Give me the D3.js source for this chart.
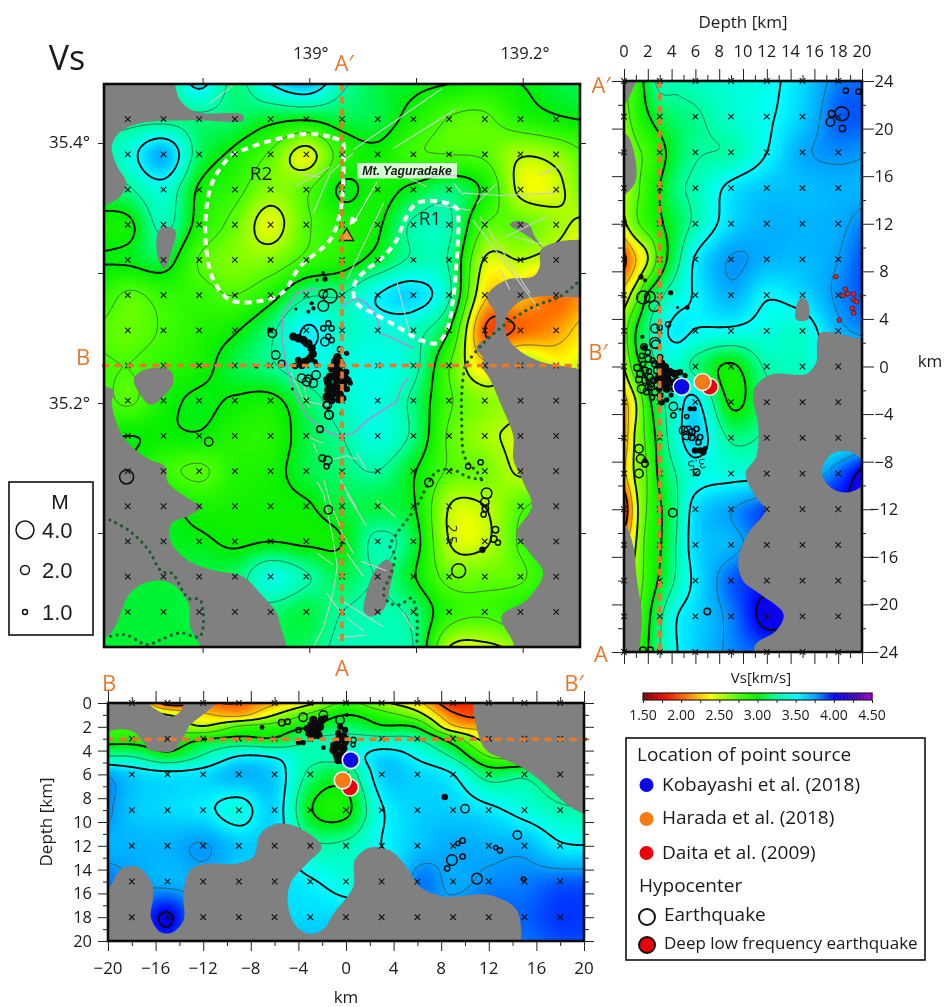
<!DOCTYPE html>
<html>
<head>
<meta charset="utf-8">
<script src="https://cdn.jsdelivr.net/npm/d3@7"></script>
<style>
  html, body { margin: 0; padding: 0; background: #fff; }
  svg { filter: blur(0.35px); }
  text { font-family: "Open Sans", sans-serif; fill: #1a1a1a; }
</style>
</head>
<body>
<div id="chart"></div>
<script>
// Vs tomography around Mt. Yaguradake: map view plus the two depth sections.

// node positions of the velocity model
const mapXs = [-21, -18, -15, -12, -9, -6, -3, 0, 3, 6, 9, 12, 15, 18, 21];
const mapYs = [24, 21, 18, 15, 12, 9, 6, 3, 0, -3, -6, -9, -12, -15, -18, -21, -24];
const sideDepths = [0, 1, 2, 3, 4.5, 6, 9, 12, 15, 18, 21];
const lowDepths = [0, 1, 2, 3, 4.5, 6, 9, 12, 15, 18, 21];

// Vs at the nodes, km/s, one row per mapYs entry
const mapVs = [
  [3.2, 3.2, 3.2, 3.55, 3.2, 3.5, 3.7, 3.3, 3.1, 3.05, 3.0, 2.93, 3.0, 3.1, 3.15],
  [3.2, 3.2, 3.2, 3.2, 3.15, 3.06, 3.02, 3.1, 3.1, 2.92, 2.74, 2.72, 2.88, 2.97, 3.02],
  [3.2, 3.4, 3.7, 3.15, 2.95, 2.72, 2.42, 2.85, 2.95, 2.78, 2.75, 2.72, 2.52, 2.58, 2.8],
  [3.1, 3.22, 3.4, 2.97, 2.82, 2.6, 2.72, 3.03, 2.93, 3.05, 3.17, 2.95, 2.45, 2.45, 2.75],
  [2.95, 2.95, 3.3, 2.92, 2.68, 2.42, 2.72, 2.88, 2.97, 3.28, 3.28, 2.75, 2.7, 2.55, 2.42],
  [3.0, 3.03, 3.1, 2.74, 2.62, 2.62, 2.8, 2.9, 3.08, 3.28, 3.23, 2.48, 2.5, 2.4, 2.3],
  [2.95, 2.72, 2.82, 2.82, 2.75, 2.92, 3.22, 3.25, 3.5, 3.6, 3.28, 2.3, 2.25, 2.05, 2.2],
  [2.75, 2.68, 2.77, 2.88, 2.98, 3.2, 3.52, 3.35, 3.4, 3.33, 3.0, 2.0, 2.03, 2.15, 2.4],
  [2.8, 2.75, 2.85, 2.93, 3.1, 3.22, 3.4, 3.4, 3.45, 3.32, 2.76, 2.3, 2.6, 2.4, 2.5],
  [2.9, 2.72, 2.93, 3.03, 2.98, 2.95, 3.15, 3.35, 3.42, 3.2, 2.78, 2.6, 2.55, 2.5, 2.5],
  [2.95, 3.0, 2.97, 2.98, 2.88, 2.88, 3.1, 3.25, 3.42, 3.2, 2.72, 2.55, 2.45, 2.4, 2.4],
  [3.0, 3.0, 2.82, 2.72, 2.88, 2.93, 3.1, 3.18, 3.25, 3.02, 2.72, 2.65, 2.47, 2.5, 2.5],
  [3.0, 3.1, 3.05, 2.92, 2.93, 2.95, 2.98, 3.1, 3.1, 3.02, 2.5, 2.5, 2.72, 2.85, 2.9],
  [3.0, 3.1, 3.05, 3.03, 2.97, 3.0, 2.97, 3.0, 3.3, 3.1, 2.5, 2.47, 2.78, 2.95, 3.0],
  [3.1, 3.08, 3.08, 3.1, 3.15, 3.42, 3.27, 3.12, 3.25, 3.02, 2.68, 2.68, 2.72, 2.95, 3.0],
  [3.08, 3.08, 3.08, 3.1, 3.15, 3.18, 3.1, 3.25, 3.3, 3.2, 2.85, 2.78, 2.9, 3.0, 3.0],
  [3.08, 3.08, 3.08, 3.08, 3.05, 3.1, 3.15, 3.3, 3.3, 3.25, 2.5, 2.45, 2.6, 2.9, 3.0]
];

// A-A' section, one row per mapYs entry, one column per sideDepths entry
const sideVs = [
  [2.75, 2.85, 3.1, 3.32, 3.3, 3.35, 3.4, 3.45, 3.6, 3.8, 3.85],
  [2.65, 2.85, 2.98, 3.1, 3.18, 3.22, 3.37, 3.47, 3.63, 3.85, 3.85],
  [2.5, 2.7, 2.8, 2.93, 3.12, 3.23, 3.28, 3.5, 3.72, 3.78, 3.75],
  [2.5, 2.7, 2.85, 3.0, 3.2, 3.3, 3.55, 3.65, 3.67, 3.7, 3.7],
  [2.45, 2.7, 2.85, 2.97, 3.12, 3.3, 3.6, 3.7, 3.7, 3.72, 3.85],
  [1.95, 2.25, 2.5, 2.85, 3.2, 3.52, 3.76, 3.7, 3.68, 3.75, 3.95],
  [2.35, 2.65, 3.02, 3.2, 3.4, 3.52, 3.7, 3.52, 3.6, 3.78, 3.9],
  [2.65, 3.0, 3.22, 3.42, 3.55, 3.49, 3.46, 3.42, 3.38, 3.7, 3.8],
  [2.5, 2.9, 3.1, 3.3, 3.35, 3.2, 2.97, 3.28, 3.35, 3.5, 3.6],
  [2.15, 2.5, 2.92, 3.17, 3.42, 3.55, 2.97, 3.2, 3.3, 3.5, 3.6],
  [2.1, 2.55, 2.82, 3.1, 3.42, 3.62, 3.22, 3.28, 3.35, 3.5, 3.6],
  [2.2, 2.55, 2.77, 3.05, 3.27, 3.42, 3.42, 3.45, 3.6, 3.85, 4.15],
  [1.8, 2.42, 2.78, 2.97, 3.25, 3.58, 3.74, 3.9, 4.0, 4.0, 4.0],
  [2.2, 2.5, 2.85, 2.98, 3.28, 3.6, 3.7, 3.85, 3.9, 3.9, 3.9],
  [2.4, 2.6, 2.85, 3.03, 3.3, 3.55, 3.85, 3.95, 4.0, 4.0, 4.0],
  [2.5, 2.7, 2.95, 3.2, 3.5, 3.6, 3.8, 4.05, 4.0, 4.0, 4.0],
  [2.6, 2.85, 3.0, 3.25, 3.5, 3.62, 3.78, 3.85, 3.8, 3.9, 3.9]
];

// B-B' section, one row per lowDepths entry, one column per mapXs entry
const lowVs = [
  [2.6, 2.6, 1.9, 2.0, 2.0, 2.2, 2.45, 2.8, 2.55, 2.3, 1.85, 2.0, 2.3, 2.3, 2.3],
  [2.7, 2.7, 2.5, 2.3, 2.2, 2.5, 2.8, 3.0, 2.85, 2.6, 2.05, 2.0, 2.4, 2.4, 2.4],
  [2.8, 2.78, 2.7, 2.52, 2.78, 2.85, 3.0, 3.15, 3.03, 2.97, 2.3, 2.2, 2.5, 2.5, 2.5],
  [2.9, 2.9, 2.85, 2.98, 3.05, 3.02, 3.25, 3.3, 3.3, 3.25, 2.85, 2.4, 2.6, 2.6, 2.6],
  [3.25, 3.25, 3.08, 3.28, 3.51, 3.48, 3.3, 3.35, 3.6, 3.47, 3.22, 2.75, 2.7, 2.7, 2.7],
  [3.8, 3.62, 3.55, 3.58, 3.7, 3.62, 3.2, 3.12, 3.62, 3.6, 3.5, 3.15, 3.2, 3.0, 2.9],
  [3.85, 3.65, 3.6, 3.55, 3.42, 3.6, 3.02, 2.95, 3.48, 3.62, 3.62, 3.55, 3.42, 3.3, 3.25],
  [3.7, 3.7, 3.7, 3.76, 3.65, 3.6, 3.3, 3.3, 3.5, 3.65, 3.72, 3.7, 3.7, 3.53, 3.5],
  [3.85, 3.75, 3.7, 3.7, 3.6, 3.6, 3.52, 3.42, 3.4, 3.8, 3.72, 3.78, 3.8, 3.85, 3.85],
  [3.8, 3.8, 4.02, 3.7, 3.7, 3.6, 3.6, 3.6, 3.6, 3.7, 3.8, 3.85, 3.85, 3.92, 3.9],
  [3.8, 3.8, 3.8, 3.7, 3.7, 3.7, 3.7, 3.7, 3.7, 3.7, 3.75, 3.8, 3.8, 3.85, 3.85]
];

// colour table of the Vs bar
const vsStops = [1.5, 1.75, 2.0, 2.25, 2.38, 2.5, 2.75, 3.0, 3.25, 3.5, 3.75, 4.0, 4.25, 4.5];
const vsColors = ['#7a0000', '#e60000', '#ff5a00', '#ffc800', '#ffff00', '#b4ff00', '#46ff00', '#00ee00', '#00ffa0', '#00ffff', '#00a0ff', '#0000ff', '#3a00b8', '#a000d0'];
const thickLevels = [2, 2.5, 3, 3.5, 4];
const thinLevels = [2.25, 2.75, 3.25, 3.75];

// unresolved areas (grey), km. Second ring of a list is a hole.
const mapGrey = [
  [[-21, 25], [-14.6, 25], [-13.6, 22.6], [-12.2, 21.6], [-8.4, 21.4], [-8.3, 20.9], [-12.5, 20.9], [-17, 20.65], [-18.65, 19.9], [-19.35, 18.65], [-18.9, 17], [-18.1, 15.5], [-18.65, 14.4], [-19.6, 13.8], [-21, 13.5]],
  [[-15.4, 11.5], [-14.9, 11.85], [-14, 11.5], [-14.3, 9.85], [-14.9, 8.3], [-15.4, 9], [-15.6, 10.4]],
  [[14.1, 12], [14.5, 12.3], [15.65, 12.1], [16.2, 11], [16.9, 10], [16.2, 10.6], [15, 11.4]],
  [[-17.5, -1.2], [-16.7, -0.4], [-14.45, -0.4], [-14.2, -1.5], [-15, -2.65], [-16.1, -3.35], [-17, -2.4]],
  [[1.8, -20.5], [2.65, -17.7], [3.75, -16.55], [4.3, -17.1], [4.05, -18.85], [3.5, -20.8], [2.35, -21.4], [1.8, -20.9]]
];
const mapGreyEast = [
  [[22, 10], [16.8, 10], [16.6, 8.4], [16.1, 7.6], [13.8, 7.3], [12.15, 5.9], [12.85, 4.45], [12.7, 2.75], [11.3, 1.6], [11.9, 0.5], [11.75, 0], [12.45, -1.2], [13.3, -3.2], [14.4, -6.05], [14.4, -8], [15.25, -10], [15.95, -12], [14.7, -14.3], [15.8, -16], [16.9, -17.7], [15.5, -20], [13.4, -21.4], [14.4, -23.7], [14.4, -25], [22, -25]],
  [[13.7, 3.9], [14.95, 5.45], [16.9, 5.9], [19.85, 5.8], [22, 5.9], [22, -0.2], [18.9, -0.1], [16.1, 0.55], [14, 2.2]]
];
const mapGreyWest = [
  [[-22, -2.1], [-19.2, -2.1], [-19.35, -3.2], [-18.95, -4.9], [-18.2, -6.35], [-16.4, -7.9], [-14.9, -8.6], [-14.6, -10], [-11.95, -11.9], [-11.65, -12], [-13.05, -12.9], [-14.3, -13.45], [-14.45, -14.85], [-13.05, -16.55], [-11.1, -17.4], [-8.3, -18], [-6.9, -19.4], [-5.5, -21.1], [-5.1, -22.5], [-4.65, -24], [-4.6, -25], [-22, -25]],
  [[-20.2, -23.4], [-19.2, -22.5], [-17.8, -19.4], [-16.1, -18.4], [-14.3, -18.6], [-12.9, -20.3], [-12.75, -22.3], [-11.9, -24], [-11.9, -25], [-21, -25], [-21, -23.4]]
];
// [depth, y]
const sideGrey = [
  [[-1, 25], [1, 25], [1, 24], [0.6, 23], [0, 22], [-1, 21.5]],
  [[-1, 19.7], [0, 19.6], [0.4, 19.3], [1.05, 16.8], [0.9, 15.4], [0, 14.4], [-1, 14.2]],
  [[14.4, 4.7], [14.8, 5.7], [15.35, 5.6], [15.5, 4], [14.5, 3.9]],
  [[-1, -13], [0, -13.2], [0.8, -15.15], [1.06, -17.7], [1.5, -21], [1.3, -24], [1.3, -25], [-1, -25]]
];
const sideGreyEast = [
  [[22, 2.2], [20, 2.3], [16.5, 2.8], [16.2, 1.1], [16.2, 0.5], [15.35, -0.6], [12.3, -0.7], [10.9, -2], [11.3, -5.1], [11.1, -7.6], [10.2, -9], [11.1, -11], [11.85, -12.1], [10.45, -14], [9.6, -16.3], [10, -18], [11.4, -19.1], [13.4, -20.8], [12.8, -22.2], [11.1, -23.3], [10.9, -24], [10.9, -25], [22, -25]],
  [[16.6, -8.9], [17.4, -7.4], [18.6, -7.1], [19.8, -7.6], [20.5, -8.9], [19.8, -10.2], [18.6, -10.6], [17.4, -10.2]]
];
// [x, depth]
const lowGreyWest = [
  [[-21, -1], [-11, -1], [-11, 0], [-13.1, 1.88], [-13.5, 2.58], [-14.5, 4], [-15.5, 4.1], [-16.6, 3.9], [-17, 3.3], [-17.9, 2.4], [-19, 2.2], [-21, 2.35]],
  [[-16.6, -1], [-16.5, 0.1], [-15.6, 0.75], [-14.8, 1.18], [-13.95, 0.75], [-13.65, 0.1], [-13.6, -1]]
];
const lowGrey = [
  [[11.1, -1], [11.1, 2.58], [11.8, 4], [13.2, 4.7], [14.75, 5.4], [16.3, 6.5], [18.55, 8.5], [20, 9.3], [22, 9.5], [22, -1]],
  [[-21, 16], [-20, 15.6], [-18.85, 13.9], [-17.45, 13.8], [-16.3, 15.2], [-16.2, 16.3], [-16.4, 18], [-15.6, 19.25], [-14.65, 19.3], [-13.65, 18.25], [-13.65, 16], [-13.1, 14.05], [-12, 13.55], [-9.2, 13.5], [-7.8, 12.95], [-7.2, 11], [-5.8, 10.15], [-4.15, 10.4], [-2.05, 12.1], [-3.3, 13.5], [-4.7, 15.2], [-4.85, 17.15], [-4.15, 18.8], [-3, 19.4], [-1.9, 19], [-1.05, 17.7], [0.6, 15.45], [0.75, 13.2], [2, 12.15], [3.7, 12.4], [5.1, 13.8], [6.2, 15.45], [8.2, 16.25], [12.1, 16.15], [14.35, 17.4], [14.75, 19.95], [14.8, 21], [-21, 21]]
];

// active faults on the map
const faults = [
  [[-11.1, 22.35], [-9.15, 23.9]], [[4.3, 18.5], [9.5, 21.8]], [[0.95, 18.4], [8.4, 23.6]],
  [[-3.95, 15.25], [-1, 16.95]], [[-2.4, 13], [-1, 16.4], [0.95, 18.1]], [[-3.4, 16.25], [-1.85, 16.1]],
  [[0.4, 7.3], [3.5, 13.85]], [[5.4, 16.1], [7.1, 15.25]], [[10.2, 14.7], [13.3, 14.5], [18, 14.7]],
  [[16.6, 16.25], [18.6, 17.1]], [[13, 15.5], [11.3, 13.8]], [[9.35, 15.55], [10.2, 14.55]],
  [[7.7, 13.7], [10.75, 13.25]], [[11, 12.4], [13.3, 9.3], [16.6, 4.75]], [[11.6, 12.7], [14.7, 7.85], [15.8, 6.15]],
  [[13.3, 8.15], [14.1, 6.45]], [[14.4, 11], [16.9, 10.3]], [[13.8, 11], [17.2, 12.7]], [[4.6, 7.15], [5.7, 2.75]],
  [[-2.95, -6.05], [-1.55, -6.65]], [[-2.4, -6.6], [-2.1, -7.45]],
  [[-2.1, -9.9], [-1.55, -10.9], [-0.75, -14.8], [-0.4, -17.15], [-0.75, -19.4], [-1.55, -22.3], [-2.4, -24]],
  [[-1.55, -9.7], [-1, -11.7], [-0.15, -13.7]], [[-0.75, -8], [0.4, -7.7], [1.25, -8]], [[-0.15, -9.75], [1.25, -12.2]],
  [[0.4, -10.9], [2.05, -13.7]], [[1.25, -7.45], [2, -8.9]], [[-0.15, -14], [0.95, -16]], [[0.4, -16], [1.8, -18]],
  [[-2.1, -16], [-0.75, -17]], [[-1.3, -19.4], [-0.15, -21]], [[-0.15, -20], [3.5, -22.3]], [[0.4, -21.5], [1.8, -22.6]],
  [[-0.4, -23.2], [2.05, -23]], [[5.1, -21], [6, -22.6]], [[1.6, -16.7], [3.75, -17.5]], [[2.9, -11.5], [4.5, -12.9]],
  [[-4.3, -0.6], [-3.2, -3], [-1.5, -3.4], [0.4, -2.6]], [[-3.4, -0.8], [-2.8, -3.6]]
];
const purpleLines = [
  [[-0.17, 5.02], [1.23, 5.73], [2.07, 5.3], [2.91, 4.17], [3.19, 2.75], [4.31, 2.32], [6, 1.47]],
  [[-2.13, 6.58], [-3.81, 6.16], [-4.93, 4.45], [-5.07, 2.47], [-4.65, -0.09], [-4.09, -2.08], [-2.97, -4.35], [-1.29, -5.63], [-0.17, -6.05], [0.95, -5.77], [2.35, -4.49], [4.59, -3.07], [5, -1.8], [5.57, -1.09]]
];
const dottedLines = [
  [[19.72, 7.01], [18.32, 5.87], [16.08, 5.02], [13.84, 3.6], [11.88, 1.9], [10.48, 0.19], [10.33, -0.09], [10.06, -2.36], [10.06, -4.64], [10.2, -7.48], [10.62, -8.33], [11.32, -9.05], [11.74, -9.75]],
  [[11.74, -9.75], [10.48, -9.47], [9.36, -8.9], [7.96, -9.05], [7.26, -10.03], [6.27, -12.02], [4.73, -14.15], [4.03, -15.43], [4.45, -16.14], [4.03, -18], [3.47, -19.41], [4.03, -20.26], [4.87, -20.4], [5.85, -19.84], [6.27, -21.11], [6.27, -23.95]],
  [[-19.5, -13.16], [-17.8, -14.15], [-16.27, -15.72], [-15.15, -17.56], [-14.31, -17.7], [-12.91, -19.84], [-11.93, -19.98], [-11.93, -23.1], [-13.6, -22.8], [-15.3, -23.4], [-16.4, -23.8], [-18.2, -22.95], [-19.5, -23.1]]
];
const regionR2 = [[0.11, 18.94], [-1.01, 19.51], [-2.97, 19.74], [-5.77, 19.23], [-8.29, 18.38], [-9.41, 17.8], [-10.81, 15.82], [-11.37, 13.55], [-11.43, 10.14], [-10.81, 7.3], [-9.41, 5.59], [-7.17, 5.45], [-5.07, 6.16], [-3.53, 8.43], [-1.01, 10.7], [-0.17, 12.98], [0.11, 15.82], [0.11, 18.23]];
const regionR1 = [[0.95, 6.44], [1.23, 5.31], [2.63, 4.45], [4.87, 3.18], [6.55, 2.18], [7.96, 1.9], [8.8, 3.03], [9.36, 5.87], [9.64, 9], [9.78, 12.41], [9.64, 13.4], [8.24, 13.97], [6.27, 13.83], [5.29, 12.41], [4.59, 10.7], [3.47, 9.28], [2.07, 8.15], [1.23, 7.3]];

// hypocenters: [x, y, M]
const mapRings = [
  [-1.57, 6.09, 3], [-1, 5.92, 4], [-1.57, 5.07, 3.4], [-1.15, 3.59, 2], [-0.87, 3.17, 2], [-1.57, 3.17, 2], [-1.43, 2.03, 3], [-0.87, 2.17, 2], [-1.15, 2.46, 2],
  [-0.17, 1.38, 2], [-5.07, 0.18, 2.4], [-5.57, 0.89, 3], [-5.85, 2.74, 3], [-6.05, 3, 1.5],
  [-3.39, -1.09, 3], [-2.83, -1.09, 2.5], [-2.97, -1.38, 3], [-2.41, -1.52, 3], [-2.18, -0.81, 3], [-1.29, -3.37, 2.4], [-1.09, -4.22, 3],
  [-1.23, -3.36, 3], [-1.1, -4.2, 3], [-1.85, -5.43, 2.4], [-11.2, -6.5, 3], [-18.1, -9.5, 4], [-1.65, -7.9, 2.4], [-1.2, -8.1, 3], [-1.3, -8.6, 2],
  [-1.15, -12.3, 3], [7.3, -9.98, 3], [10.6, -8.6, 2], [11.65, -8.25, 2], [12.15, -10.9, 3.4], [12, -11.65, 3], [12.05, -12.2, 2.4], [11.9, -12.7, 2],
  [12.9, -14, 2.4], [12.75, -14.8, 2.4], [13.1, -15.1, 2], [9.8, -17.5, 4]
];
const mapDots = [
  [-4.09, 2.46, 3], [-3.67, 2.32, 3], [-3.25, 2.17, 3], [-2.83, 1.89, 3], [-2.55, 1.46, 3], [-2.46, 0.98, 3], [-2.69, 0.61, 3], [-3.11, 0.33, 3], [-3.39, 0.04, 3], [-3.67, 0.47, 2.4], [-3.95, -0.04, 2.4], [-2.13, 0.04, 2], [-2.27, 0.33, 2],
  [-2.55, 5.3, 1.6], [-2.41, 4.87, 1.6], [-2.83, 4.59, 1.4], [-3.87, 4.82, 1], [0.39, 1.04, 2], [-4.17, -2, 1], [-1.43, 7.38, 2], [-1.6, 7.9, 1.2], [-2.1, 7.3, 1],
  [-0.39, 0.7, 3], [-0.59, 0.33, 3], [-0.17, 0.33, 3], [-0.87, -0.24, 3], [-0.31, -0.24, 3], [0.03, -0.67, 3], [-0.53, -0.81, 3], [-1, -0.95, 3], [0.25, -1.09, 3], [-0.45, -1.24, 3], [-1.15, -1.52, 3], [0.11, -1.52, 3], [0.53, -1.24, 2.4],
  [-0.59, -1.8, 3], [-0.17, -1.95, 3], [-1.15, -2.09, 3], [-0.73, -2.37, 3], [-0.17, -2.51, 3], [-1.29, -2.66, 3], [-0.87, -2.94, 3], [-0.31, -2.94, 2.4], [-0.03, -4.08, 1.4], [11.8, -15.7, 2.4], [-7.2, -0.1, 1.4],
  [0.35, -0.55, 2.4], [0.7, -1.5, 2], [0.4, -2, 2.4], [0.1, -2.8, 2.4], [-1.3, -1.2, 2.4]
];
const sideRings = [
  [2.05, 0.64, 2.4], [1.34, -0.62, 2.4], [1.76, -0.34, 2.4], [2.18, -0.9, 2.4], [1.76, -1.18, 2.4], [1.48, -1.88, 3], [2.05, -1.74, 2.4], [2.6, -2.16, 2.4], [2.46, -1.18, 2.4], [2.75, -0.34, 2.4], [2.6, 0.22, 2.4], [3.03, 0.78, 2],
  [1.1, -0.1, 2.4], [1.6, 0.2, 2], [2.1, -0.4, 2], [2.4, 0.5, 2], [1.25, -1.1, 2.4], [1.9, -2.1, 2.4], [2.3, -1.5, 2], [2.8, -1.6, 2.4], [2.9, 0.1, 2], [1.5, 0.9, 2], [2, 1.2, 2], [2.35, -2.6, 2],
  [2.66, 1.85, 3], [4.15, -3.36, 3], [4.15, -4.1, 2], [5.27, -4.2, 1.5], [5, -5.38, 3], [5.4, -5.38, 3], [5.7, -5.5, 2.4], [5.27, -5.8, 3], [5.7, -5.94, 2.4], [6.1, -5.24, 2], [6.4, -5.94, 2], [6.25, -6.36, 2], [6.1, -8.88, 2.4],
  [1.26, -6.92, 3], [1.4, -7.76, 3], [1.76, -8.18, 2.4], [1.26, -9, 3], [1.62, 5.8, 3.8], [2.18, 5.85, 3.4], [2.55, 5.07, 3.4], [3.7, 3.55, 2], [3, 3.27, 2], [2.6, 3.2, 3], [2.6, 2, 3.4], [1.68, 1.65, 2.4],
  [18.65, 23.2, 2], [19.7, 23.1, 2], [18.3, 21.25, 4], [17.45, 21.25, 2.4], [17.35, 20.55, 3], [18.35, 20, 2.4],
  [4.1, -12.3, 3], [7, -20.6, 2.4], [1.6, -23.85, 2.4], [2.2, -23.85, 2.4]
];
const sideDots = [
  [3.45, -0.06, 3], [3.87, -0.48, 3], [4.29, -0.62, 3], [4.7, -0.48, 2.4], [5.13, -0.76, 2], [3.6, -0.9, 3], [3.16, -1.46, 3], [3.6, -1.88, 3], [3.03, -2.44, 2.4], [3.16, -3, 2.4], [3.87, -1.32, 3], [3.3, -0.48, 3], [2.9, -0.8, 2.4], [3.95, -2.4, 2], [4.4, -1.1, 2.4],
  [3.2, 0.3, 2.4], [2.75, -1.1, 2.4], [2.95, -1.9, 2.4], [4.15, -1.9, 2.4], [3.6, -2.8, 2], [3.1, -0.9, 3], [3.45, -1.4, 3], [2.8, 0.15, 2],
  [1.71, 1.62, 2], [4.7, -3.6, 1], [5.55, -3.55, 2], [5.9, -3.55, 2], [5.97, -7.06, 2.4], [6.4, -7.06, 2.4], [6.67, -7.2, 2.4], [6.8, -6.9, 2],
  [1.43, 7.53, 2], [1.77, 7.25, 1.4], [3.92, 6.2, 2], [5.32, 4.95, 1.8], [4.5, 4.95, 1], [1.54, 2.5, 1.5], [1.76, -7.9, 2]
];
const lowRings = [
  [-5.4, 1.65, 2.4], [-4.9, 1.57, 2], [-3.6, 1.2, 3], [-1.9, 1, 3], [-4, 2.27, 2], [-0.5, 1.43, 3], [0.62, 3.1, 2], [0.6, 3.5, 1.5],
  [10, 8.88, 3], [14.4, 11.1, 3], [9.8, 11.57, 2], [9.4, 11.8, 1.5], [12.58, 12.15, 1.5], [12.94, 12.38, 2], [9.8, 12.9, 2], [8.9, 13.2, 3.4], [8.5, 13.9, 2], [11, 14.76, 3.4], [14.9, 14.8, 1.5]
];
const lowDots = [
  [-2.75, 1.43, 3], [-3, 1.85, 2.4], [-2.46, 1.85, 3], [-2.04, 1.43, 3], [-1.76, 1.29, 2.4], [-2.9, 2.27, 3], [-2.46, 2.27, 3], [-2.18, 2, 3], [-3.17, 2.55, 2.4], [-2.75, 2.69, 3], [-2.32, 2.69, 3], [-3.3, 2.13, 2.4], [-3, 2.97, 2.4], [-3.87, 3.25, 2], [-3.6, 3.33, 2], [-4, 3.33, 2], [-1.9, 3.75, 1.8],
  [0.06, 1, 1.5], [-0.5, 2, 2.4], [-0.08, 2.27, 2.4], [-0.65, 2.55, 2.4], [-0.22, 2.83, 3], [-0.65, 3.1, 3], [-0.08, 3.25, 3], [-1.06, 3.53, 2.4], [-0.65, 3.67, 3], [-0.22, 3.8, 3], [-1.06, 3.95, 3], [-0.78, 4.37, 3], [-0.36, 4.37, 3], [-0.65, 4.8, 3], [-0.22, 4.8, 3],
  [-7.05, 2.05, 1.8], [8.3, 7.9, 2.4]
];
const deepLowFreq = [[17.8, 7.55], [18.6, 6.5], [18.8, 6.1], [19.3, 6.1], [20, 5.9], [18.4, 5.95], [19.3, 5.6], [19.55, 5.45], [19.2, 4.9], [19.3, 4.5], [18.1, 3.9]];

// point sources: depth and position on each section
const sourceNames = ['Daita et al. (2009)', 'Harada et al. (2018)', 'Kobayashi et al. (2018)'];
const sourceColors = ['#e8000b', '#f57c13', '#0a0ae6'];
const sourceSide = [[7.2, -1.7], [6.6, -1.3], [4.85, -1.7]];
const sourceLow = [[0.33, 7.1], [-0.28, 6.5], [0.4, 4.8]];

const gridX = [-18, -15, -12, -9, -6, -3, 0, 3, 6, 9, 12, 15, 18];
const gridY = [21, 18, 15, 12, 9, 6, 3, 0, -3, -6, -9, -12, -15, -18, -21];
const gridYEdge = [24, 21, 18, 15, 12, 9, 6, 3, 0, -3, -6, -9, -12, -15, -18, -21, -24];
const gridDepth = [0, 3, 6, 9, 12, 15, 18];
const lonTicks = [138.9, 139, 139.1, 139.2];
const latTicks = [35.4, 35.3, 35.2, 35.1];
const legendM = [4, 2, 1];

const W = 945, H = 1007;
const orange = '#e8792a';
const svg = d3.select('#chart').append('svg').attr('width', W).attr('height', H).style('display', 'block');
const defs = svg.append('defs');

const vsColor = d3.scaleLinear().domain(vsStops).range(vsColors).clamp(true);
const eventR = d3.scaleLinear().domain([1, 2, 3, 4]).range([1.5, 2.6, 4.2, 7]);
const legendR = d3.scaleLinear().domain([1, 2, 4]).range([2.5, 4.5, 9]);

const mapX = d3.scaleLinear().domain([-20, 20]).range([104, 580]);
const mapY = d3.scaleLinear().domain([24, -24]).range([84, 647]);
const sideX = d3.scaleLinear().domain([0, 20]).range([624, 862]);
const sideY = d3.scaleLinear().domain([24, -24]).range([81, 652]);
const lowX = d3.scaleLinear().domain([-20, 20]).range([108, 584]);
const lowY = d3.scaleLinear().domain([0, 20]).range([703, 941]);

// hermite spline through unevenly spaced knots
function spline(ks, vs, t) {
  let i = d3.bisectRight(ks, t) - 1;
  i = Math.max(0, Math.min(ks.length - 2, i));
  const slope = k => {
    const a = Math.max(0, k - 1), b = Math.min(ks.length - 1, k + 1);
    return (vs[b] - vs[a]) / (ks[b] - ks[a]);
  };
  const h = ks[i + 1] - ks[i], s = (t - ks[i]) / h;
  const s2 = s * s, s3 = s2 * s;
  return (2 * s3 - 3 * s2 + 1) * vs[i] + (s3 - 2 * s2 + s) * h * slope(i) +
    (-2 * s3 + 3 * s2) * vs[i + 1] + (s3 - s2) * h * slope(i + 1);
}

// resample node values to one value per screen pixel
function resample(xScale, yScale, xs, ys, rows) {
  const [x0, x1] = xScale.range(), [y0, y1] = yScale.range();
  const w = x1 - x0, h = y1 - y0;
  const kx = xs.map(xScale), ky = ys.map(yScale);
  const perRow = rows.map(r => d3.range(w).map(i => spline(kx, r, x0 + i + 0.5)));
  const values = new Float64Array(w * h);
  for (let i = 0; i < w; i++) {
    const col = perRow.map(r => r[i]);
    for (let j = 0; j < h; j++) values[j * w + i] = spline(ky, col, y0 + j + 0.5);
  }
  return { values, w, h };
}

function fieldImage(f) {
  const canvas = document.createElement('canvas');
  canvas.width = f.w; canvas.height = f.h;
  const ctx = canvas.getContext('2d');
  const img = ctx.createImageData(f.w, f.h);
  f.values.forEach((v, k) => {
    const c = d3.rgb(vsColor(v));
    img.data[k * 4] = c.r; img.data[k * 4 + 1] = c.g; img.data[k * 4 + 2] = c.b; img.data[k * 4 + 3] = 255;
  });
  ctx.putImageData(img, 0, 0);
  return canvas.toDataURL();
}

const ringLine = d3.line().curve(d3.curveCatmullRomClosed.alpha(0.5));
const cross = d3.symbol().type(d3.symbolX).size(22);

function drawPanel(name, xScale, yScale, xs, ys, rows, greys) {
  const [x0, x1] = xScale.range(), [y0, y1] = yScale.range();
  defs.append('clipPath').attr('id', 'clip-' + name).append('rect')
    .attr('x', x0).attr('y', y0).attr('width', x1 - x0).attr('height', y1 - y0);
  const g = svg.append('g').attr('clip-path', `url(#clip-${name})`);
  const f = resample(xScale, yScale, xs, ys, rows);
  g.append('image').attr('x', x0).attr('y', y0).attr('width', f.w).attr('height', f.h).attr('href', fieldImage(f));

  const contours = d3.contours().size([f.w, f.h]).smooth(true);
  const path = d3.geoPath();
  const lines = g.append('g').attr('transform', `translate(${x0},${y0})`).attr('fill', 'none');
  thinLevels.forEach(l => lines.append('path').attr('d', path(contours.contour(f.values, l)))
    .attr('stroke', '#3c4a3c').attr('stroke-width', 0.8));
  thickLevels.forEach(l => lines.append('path').attr('d', path(contours.contour(f.values, l)))
    .attr('stroke', '#0a0a0a').attr('stroke-width', 1.9));

  // grey goes over the field; a hole in a list is cut with evenodd
  const ringPath = ring => ringLine(ring.map(p => [xScale(p[0]), yScale(p[1])]));
  greys.forEach(list => {
    g.append('path').attr('d', list.map(ringPath).join(' ')).attr('fill', '#808080').attr('fill-rule', 'evenodd');
  });
  return g;
}

function crosses(g, xScale, yScale, xs, ys) {
  xs.forEach(x => ys.forEach(y => {
    g.append('path').attr('d', cross()).attr('transform', `translate(${xScale(x)},${yScale(y)})`)
      .attr('fill', 'none').attr('stroke', '#111').attr('stroke-width', 1.1);
  }));
}

function drawEvents(g, xScale, yScale, rings, dots) {
  g.selectAll(null).data(rings).enter().append('circle')
    .attr('cx', d => xScale(d[0])).attr('cy', d => yScale(d[1])).attr('r', d => eventR(d[2]))
    .attr('fill', 'none').attr('stroke', '#0a0a0a').attr('stroke-width', 1.5);
  g.selectAll(null).data(dots).enter().append('circle')
    .attr('cx', d => xScale(d[0])).attr('cy', d => yScale(d[1])).attr('r', d => eventR(d[2]))
    .attr('fill', '#0a0a0a');
}

function drawSources(g, xScale, yScale, pts) {
  g.selectAll(null).data(pts).enter().append('circle')
    .attr('cx', d => xScale(d[0])).attr('cy', d => yScale(d[1])).attr('r', 8.5)
    .attr('fill', (d, i) => sourceColors[i]).attr('stroke', '#f4f4f4').attr('stroke-width', 1.6);
}

function frame(xScale, yScale) {
  const [x0, x1] = xScale.range(), [y0, y1] = yScale.range();
  svg.append('rect').attr('x', x0).attr('y', y0).attr('width', x1 - x0).attr('height', y1 - y0)
    .attr('fill', 'none').attr('stroke', '#0a0a0a').attr('stroke-width', 2.6);
}

function dashed(x1, y1, x2, y2) {
  svg.append('line').attr('x1', x1).attr('y1', y1).attr('x2', x2).attr('y2', y2)
    .attr('stroke', orange).attr('stroke-width', 3.6).attr('stroke-dasharray', '7 5.5');
}

// one d3 axis per side, only the tick marks, labels are placed separately
function ticks(axisFn, scale, values, size, tx, ty) {
  const a = axisFn(scale).tickValues(values).tickSize(size).tickFormat('');
  const g = svg.append('g').attr('transform', `translate(${tx},${ty})`).call(a);
  g.select('.domain').remove();
  g.selectAll('line').attr('stroke', '#222').attr('stroke-width', 1);
}

function label(x, y, txt, size, opts) {
  const o = opts || {};
  const t = svg.append('text').attr('x', x).attr('y', y).attr('text-anchor', o.anchor || 'middle')
    .style('font-size', size + 'px').text(txt);
  if (o.color) t.style('fill', o.color);
  if (o.rotate !== undefined) t.attr('transform', `rotate(${o.rotate},${x},${y})`);
  if (o.family) t.style('font-family', o.family);
  return t;
}
const minus = v => String(v).replace('-', '\u2212');

// --- map view ---
const mapPanel = drawPanel('map', mapX, mapY, mapXs, mapYs, mapVs, [mapGrey[0], mapGrey[1], mapGrey[2], mapGrey[3], mapGrey[4], mapGreyEast, mapGreyWest].map((l, i) => i < 5 ? [l] : l));
const openLine = d3.line().x(d => mapX(d[0])).y(d => mapY(d[1]));
const smoothOpen = d3.line().x(d => mapX(d[0])).y(d => mapY(d[1])).curve(d3.curveCatmullRom.alpha(0.5));
const smoothRing = d3.line().x(d => mapX(d[0])).y(d => mapY(d[1])).curve(d3.curveCatmullRomClosed.alpha(0.5));

mapPanel.selectAll(null).data(faults).enter().append('path').attr('d', openLine)
  .attr('fill', 'none').attr('stroke', '#c9cdc9').attr('stroke-width', 1.1);
mapPanel.selectAll(null).data(purpleLines).enter().append('path').attr('d', openLine)
  .attr('fill', 'none').attr('stroke', '#a78fd6').attr('stroke-width', 1.6);
mapPanel.selectAll(null).data(dottedLines).enter().append('path').attr('d', smoothOpen)
  .attr('fill', 'none').attr('stroke', '#1e5a2c').attr('stroke-width', 3.2)
  .attr('stroke-dasharray', '0.1 6.4').attr('stroke-linecap', 'round');
mapPanel.selectAll(null).data([regionR2, regionR1]).enter().append('path').attr('d', smoothRing)
  .attr('fill', 'none').attr('stroke', '#fff').attr('stroke-width', 4).attr('stroke-dasharray', '7 5');
crosses(mapPanel, mapX, mapY, gridX, gridY);
drawEvents(mapPanel, mapX, mapY, mapRings, mapDots);

label(261, 180, 'R2', 19);
label(430, 225, 'R1', 19);
label(447, 534, '2.5', 14, { rotate: 92 });

// Mt. Yaguradake label and arrow
svg.append('rect').attr('x', 357).attr('y', 163).attr('width', 100).attr('height', 15.5)
  .attr('fill', '#fff').attr('opacity', 0.82);
label(407, 175, 'Mt. Yaguradake', 12.2, { family: '"Liberation Sans", sans-serif' })
  .style('font-weight', 'bold').style('font-style', 'italic');
svg.append('line').attr('x1', 377).attr('y1', 182).attr('x2', 353).attr('y2', 224)
  .attr('stroke', '#fff').attr('stroke-width', 1.1);
svg.append('path').attr('d', 'M349,226 L351,216 L358,220 Z').attr('fill', '#fff');
svg.append('path').attr('d', d3.symbol().type(d3.symbolTriangle).size(85)())
  .attr('transform', `translate(${mapX(0.39)},${mapY(11.0)})`)
  .attr('fill', '#f29a2e').attr('stroke', '#1a1a1a').attr('stroke-width', 1.3);

dashed(mapX(0), 84, mapX(0), 641);
dashed(102, mapY(0), 581, mapY(0));
frame(mapX, mapY);

const lonX = d3.scaleLinear().domain([139, 139.2]).range([309.3, 522.7]);
const latY = d3.scaleLinear().domain([35.4, 35.2]).range([143, 403]);
ticks(d3.axisTop, lonX, lonTicks, 6, 0, 84);
ticks(d3.axisBottom, lonX, lonTicks, 6, 0, 647);
ticks(d3.axisLeft, latY, latTicks, 6, 104, 0);
ticks(d3.axisRight, latY, latTicks, 6, 580, 0);
label(311, 59, '139\u00b0', 16.5);
label(525, 59, '139.2\u00b0', 16.5);
label(90, 148, '35.4\u00b0', 17, { anchor: 'end' });
label(90, 409, '35.2\u00b0', 17, { anchor: 'end' });

label(67, 70, 'Vs', 34);
label(344, 71, 'A\u2032', 22, { color: orange });
label(342, 676, 'A', 22, { color: orange });
label(83, 365, 'B', 22, { color: orange });
label(598, 360, 'B\u2032', 22, { color: orange });

// --- A-A' section ---
const sidePanel = drawPanel('side', sideX, sideY, sideDepths, mapYs, sideVs, [...sideGrey.map(l => [l]), sideGreyEast]);
crosses(svg, sideX, sideY, gridDepth, gridYEdge);
drawEvents(sidePanel, sideX, sideY, sideRings, sideDots);
sidePanel.selectAll(null).data(deepLowFreq).enter().append('circle')
  .attr('cx', d => sideX(d[0])).attr('cy', d => sideY(d[1])).attr('r', 2.3)
  .attr('fill', '#e8262a').attr('stroke', '#3a1010').attr('stroke-width', 0.7);
dashed(sideX(3), 81, sideX(3), 650);
drawSources(svg, sideX, sideY, sourceSide);
frame(sideX, sideY);
label(696, 460, '3.5', 13, { rotate: 170 });

ticks(d3.axisTop, sideX, d3.range(0, 21, 2), 12, 0, 81);
ticks(d3.axisTop, sideX, d3.range(1, 21, 2), 6, 0, 81);
ticks(d3.axisBottom, sideX, d3.range(0, 21, 2), 12, 0, 652);
ticks(d3.axisBottom, sideX, d3.range(1, 21, 2), 6, 0, 652);
ticks(d3.axisLeft, sideY, d3.range(-24, 25, 4), 12, 624, 0);
ticks(d3.axisLeft, sideY, d3.range(-22, 25, 4), 6, 624, 0);
ticks(d3.axisRight, sideY, d3.range(-24, 25, 4), 12, 862, 0);
ticks(d3.axisRight, sideY, d3.range(-22, 25, 4), 4, 862, 0);
d3.range(0, 21, 2).forEach(d => label(sideX(d), 57, d, 16.5));
d3.range(-24, 25, 4).forEach(v => label(884, sideY(v) + 6, minus(v), 16.5));
label(743, 28, 'Depth [km]', 17);
label(930, 367, 'km', 17);
label(601, 93, 'A\u2032', 22, { color: orange });
label(601, 662, 'A', 22, { color: orange });

// --- B-B' section ---
const lowPanel = drawPanel('low', lowX, lowY, mapXs, lowDepths, lowVs, [lowGreyWest, [lowGrey[0]], [lowGrey[1]]]);
crosses(svg, lowX, lowY, gridX, gridDepth);
drawEvents(lowPanel, lowX, lowY, lowRings, lowDots);
dashed(107, lowY(3.05), 587, lowY(3.05));
drawSources(svg, lowX, lowY, sourceLow);
frame(lowX, lowY);

ticks(d3.axisTop, lowX, d3.range(-20, 21, 4), 12, 0, 703);
ticks(d3.axisTop, lowX, d3.range(-18, 21, 4), 6, 0, 703);
ticks(d3.axisBottom, lowX, d3.range(-20, 21, 4), 10, 0, 941);
ticks(d3.axisBottom, lowX, d3.range(-18, 21, 4), 5, 0, 941);
ticks(d3.axisLeft, lowY, d3.range(0, 21, 2), 10, 108, 0);
ticks(d3.axisLeft, lowY, d3.range(1, 21, 2), 5, 108, 0);
ticks(d3.axisRight, lowY, d3.range(0, 21, 2), 10, 584, 0);
ticks(d3.axisRight, lowY, d3.range(1, 21, 2), 5, 584, 0);
d3.range(-20, 21, 4).forEach(v => label(lowX(v), 974, minus(v), 17));
d3.range(0, 21, 2).forEach(v => label(92, lowY(v) + 6, v, 16.5, { anchor: 'end' }));
label(52, 822, 'Depth [km]', 17, { rotate: -90 });
label(346, 1003, 'km', 17);
label(109, 691, 'B', 22, { color: orange });
label(574, 691, 'B\u2032', 22, { color: orange });

// --- colour bar ---
const barX = d3.scaleLinear().domain([1.5, 4.5]).range([643, 872]);
svg.append('g').selectAll('rect').data(d3.range(1.5, 4.5, 0.01)).enter().append('rect')
  .attr('x', d => barX(d)).attr('y', 693).attr('width', 1.2).attr('height', 7).attr('fill', d => vsColor(d));
svg.append('rect').attr('x', 643).attr('y', 693).attr('width', 229).attr('height', 7)
  .attr('fill', 'none').attr('stroke', '#222').attr('stroke-width', 1.2);
ticks(d3.axisBottom, barX, d3.range(1.5, 4.51, 0.25), 3, 0, 700);
d3.range(1.5, 4.51, 0.5).forEach(v => label(barX(v), 720, v.toFixed(2), 14));
label(761, 683, 'Vs[km/s]', 15);

// --- legends ---
svg.append('rect').attr('x', 626).attr('y', 738).attr('width', 299).attr('height', 222)
  .attr('fill', '#fff').attr('stroke', '#111').attr('stroke-width', 1.6);
label(637, 761, 'Location of point source', 19, { anchor: 'start' });
const legendRows = [[2, 785, 791], [1, 819, 824], [0, 853, 859]];
legendRows.forEach(r => {
  svg.append('circle').attr('cx', 646.5).attr('cy', r[1]).attr('r', 7).attr('fill', sourceColors[r[0]]);
  label(662, r[2], sourceNames[r[0]], 19, { anchor: 'start' });
});
label(639, 892, 'Hypocenter', 19, { anchor: 'start' });
svg.append('circle').attr('cx', 647).attr('cy', 917).attr('r', 8).attr('fill', '#fff').attr('stroke', '#111').attr('stroke-width', 2);
label(664, 921, 'Earthquake', 19, { anchor: 'start' });
svg.append('circle').attr('cx', 647).attr('cy', 945).attr('r', 8).attr('fill', '#e8000b').attr('stroke', '#111').attr('stroke-width', 2);
label(664, 949, 'Deep low frequency earthquake', 17, { anchor: 'start' });

svg.append('rect').attr('x', 9).attr('y', 482).attr('width', 84).attr('height', 153)
  .attr('fill', '#fff').attr('stroke', '#111').attr('stroke-width', 1.6);
const sans = '"Liberation Sans", sans-serif';
label(60, 509, 'M', 21, { family: sans });
legendM.forEach((m, i) => {
  const cy = [530, 570, 612][i];
  svg.append('circle').attr('cx', 25).attr('cy', cy).attr('r', legendR(m))
    .attr('fill', 'none').attr('stroke', '#111').attr('stroke-width', 1.5);
  label(42, cy + 8, m.toFixed(1), 22, { anchor: 'start', family: sans });
});
</script>
</body>
</html>
